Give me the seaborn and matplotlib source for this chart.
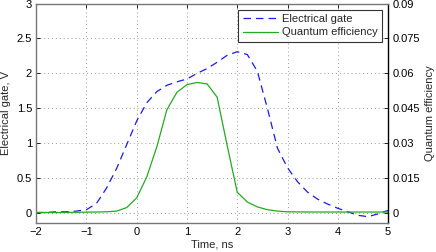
import numpy as np
import pandas as pd
import matplotlib
matplotlib.use("Agg")
import matplotlib.pyplot as plt
import seaborn as sns

# Data
t_gate = [-2.0, -1.8, -1.6, -1.4, -1.2, -1.0, -0.8, -0.6, -0.4, -0.2, 0.0, 0.2, 0.4, 0.6,
          0.8, 1.0, 1.2, 1.4, 1.6, 1.8, 2.0, 2.2, 2.4, 2.6, 2.8, 3.0, 3.2, 3.4, 3.6, 3.8,
          4.0, 4.2, 4.4, 4.6, 4.8, 5.0]
gate_v = [0.01, 0.01, 0.02, 0.02, 0.03, 0.05, 0.14, 0.36, 0.64, 0.98, 1.32, 1.58, 1.74, 1.83,
          1.88, 1.92, 2.00, 2.07, 2.16, 2.26, 2.31, 2.27, 2.03, 1.50, 0.93, 0.65, 0.45, 0.30,
          0.20, 0.13, 0.07, 0.02, -0.03, -0.05, -0.01, 0.04]

t_qe = [-2.0, -1.6, -1.2, -0.8, -0.6, -0.4, -0.2, 0.0, 0.2, 0.4, 0.6, 0.8, 1.0, 1.2, 1.4,
        1.6, 1.8, 2.0, 2.2, 2.4, 2.6, 2.8, 3.0, 3.5, 4.0, 4.5, 5.0]
qe = [0.0003, 0.0003, 0.0004, 0.0005, 0.0006, 0.0009, 0.0024, 0.0066, 0.0156, 0.0285, 0.0444,
      0.0519, 0.0552, 0.0561, 0.0555, 0.0498, 0.0290, 0.0090, 0.0048, 0.0027, 0.0015,
      0.0009, 0.0006, 0.0005, 0.0005, 0.0005, 0.0005]

x_ticks = [-2, -1, 0, 1, 2, 3, 4, 5]
left_ticks = [0, 0.5, 1, 1.5, 2, 2.5, 3]
left_labels = ["0", "0.5", "1", "1.5", "2", "2.5", "3"]
right_ticks = [0, 0.015, 0.03, 0.045, 0.06, 0.075, 0.09]
right_labels = ["0", "0.015", "0.03", "0.045", "0.06", "0.075", "0.09"]

sns.set_style("white")
plt.rcParams['font.family'] = ['Liberation Sans', 'DejaVu Sans']
plt.rcParams['font.size'] = 8

fig = plt.figure(figsize=(4.36, 2.52), dpi=100)
ax = fig.add_axes([0.083, 0.117, 0.807, 0.869])
ax2 = ax.twinx()

df_gate = pd.DataFrame({"t": t_gate, "v": gate_v})
df_qe = pd.DataFrame({"t": t_qe, "q": qe})

sns.lineplot(data=df_gate, x="t", y="v", ax=ax, color="#1a1aee", lw=0.9,
             dashes=False, label="Electrical gate", legend=False)
ax.lines[0].set_dashes([6, 4])
sns.lineplot(data=df_qe, x="t", y="q", ax=ax2, color="#22aa22", lw=0.9,
             label="Quantum efficiency", legend=False)

ax.set_xlim(-2, 5)
ax.set_ylim(-0.4 / 3, 3)
ax2.set_ylim(-0.004, 0.09)
ax.set_xticks(x_ticks)
ax.set_xticklabels([str(v).replace("-", "\u2212") for v in x_ticks])
ax.set_yticks(left_ticks)
ax.set_yticklabels(left_labels)
ax2.set_yticks(right_ticks)
ax2.set_yticklabels(right_labels)

ax.grid(True, color="#999999", linestyle=(0, (1, 3)), lw=0.7)
ax.set_axisbelow(True)

for a in (ax, ax2):
    a.tick_params(direction="in", length=3, width=0.7, labelsize=8, pad=3,
                  top=True, colors="#222222", labelcolor="black")
ax2.tick_params(axis="y", right=True, left=False)
ax.tick_params(axis="y", right=False)

for s in ["left", "bottom", "top"]:
    ax2.spines[s].set_color("#777777")
    ax2.spines[s].set_linewidth(1.0)
ax2.spines["right"].set_color("black")
ax2.spines["right"].set_linewidth(1.0)
for s in ax.spines.values():
    s.set_visible(False)

ax.set_xlabel("Time, ns", fontsize=8, labelpad=2)
ax.set_ylabel("Electrical gate, V", fontsize=8, labelpad=4)
ax2.set_ylabel("Quantum efficiency", fontsize=8, labelpad=4)

h1, l1 = ax.get_legend_handles_labels()
h2, l2 = ax2.get_legend_handles_labels()
leg = ax2.legend(h1 + h2, l1 + l2, loc="upper right", fontsize=8, frameon=True,
                 fancybox=False, borderpad=0.4, handlelength=3.2, handletextpad=0.3,
                 labelspacing=0.3, borderaxespad=0.55)
leg.get_frame().set_edgecolor("black")
leg.get_frame().set_linewidth(0.8)

fig.savefig("out.png", dpi=100)
